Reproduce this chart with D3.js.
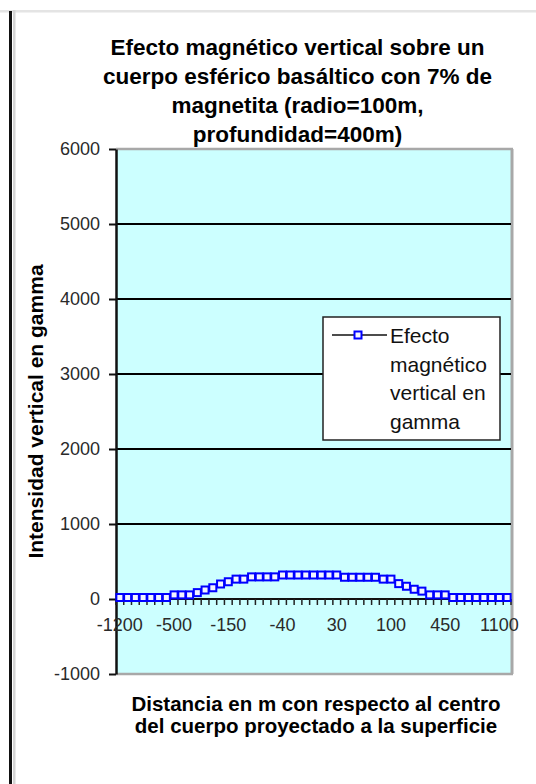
<!DOCTYPE html>
<html>
<head>
<meta charset="utf-8">
<script src="https://cdn.jsdelivr.net/npm/d3@7"></script>
<style>
  html, body { margin: 0; padding: 0; background: #fff; }
  svg { display: block; }
  text { font-family: "Liberation Sans", Arial, sans-serif; }
</style>
</head>
<body>
<div id="chart"></div>
<script>
// Categorias del eje X (distancia en m) y valores de la serie (gamma)
var categories = [-1200, -1100, -1000, -900, -800, -700, -600, -500,
    -450, -400, -350, -300, -250, -200, -150,
    -100, -90, -80, -70, -60, -50, -40,
    -30, -20, -10, 0, 10, 20, 30,
    40, 50, 60, 70, 80, 90, 100,
    150, 200, 250, 300, 350, 400, 450,
    500, 600, 700, 800, 900, 1000, 1100, 1200];
var values = [20, 20, 20, 20, 20, 20, 20, 55,
    55, 55, 85, 120, 150, 200, 230,
    265, 265, 295, 295, 295, 295, 320,
    320, 320, 320, 320, 320, 320, 320,
    290, 290, 290, 290, 290, 265, 265,
    205, 170, 130, 105, 55, 55, 55,
    20, 20, 20, 20, 20, 20, 20, 20];
var labeledCats = [-1200, -500, -150, -40, 30, 100, 450, 1100];
var yTicks = [-1000, 0, 1000, 2000, 3000, 4000, 5000, 6000];
var gridTicks = [1000, 2000, 3000, 4000, 5000];
var titleLines = ['Efecto magnético vertical sobre un',
    'cuerpo esférico basáltico con 7% de',
    'magnetita (radio=100m,',
    'profundidad=400m)'];
var xTitleLines = ['Distancia en m con respecto al centro',
    'del cuerpo proyectado a la superficie'];
var yTitle = 'Intensidad vertical en gamma';
var legendLines = ['Efecto', 'magnético', 'vertical en', 'gamma'];

var W = 536, H = 784;
var P = { left: 116, right: 511, top: 149, bottom: 674 };

var svg = d3.select('#chart').append('svg')
    .attr('width', W).attr('height', H);

svg.append('rect').attr('width', W).attr('height', H).attr('fill', '#fff');

// marco de la pagina
svg.append('rect').attr('x', 0).attr('y', 10).attr('width', W).attr('height', 2.5).attr('fill', '#e4e4e4');
svg.append('rect').attr('x', 13).attr('y', 10).attr('width', 2.5).attr('height', H).attr('fill', '#d4d4d4');
svg.append('rect').attr('x', 9).attr('y', 11).attr('width', 3).attr('height', H).attr('fill', '#111');

var x = d3.scaleBand().domain(categories).range([P.left, P.right]).padding(0);
var y = d3.scaleLinear().domain([-1000, 6000]).range([P.bottom, P.top]);
var cx = function (c) { return x(c) + x.bandwidth() / 2; };

// area del grafico
svg.append('rect')
    .attr('x', P.left).attr('y', P.top)
    .attr('width', P.right - P.left).attr('height', P.bottom - P.top)
    .attr('fill', '#ccffff');
svg.append('line').attr('x1', P.left).attr('x2', P.right + 2).attr('y1', P.top).attr('y2', P.top)
    .attr('stroke', '#a8a8a8').attr('stroke-width', 2.5);
svg.append('line').attr('x1', P.right + 1).attr('x2', P.right + 1).attr('y1', P.top).attr('y2', P.bottom)
    .attr('stroke', '#a8a8a8').attr('stroke-width', 3);
svg.append('line').attr('x1', P.left).attr('x2', P.right + 2).attr('y1', P.bottom).attr('y2', P.bottom)
    .attr('stroke', '#a8a8a8').attr('stroke-width', 2.5);

svg.append('g').selectAll('line').data(gridTicks).join('line')
    .attr('x1', P.left).attr('x2', P.right)
    .attr('y1', function (d) { return y(d); }).attr('y2', function (d) { return y(d); })
    .attr('stroke', '#000').attr('stroke-width', 2);

// eje Y
var yAxis = svg.append('g')
    .attr('transform', 'translate(' + P.left + ',0)')
    .call(d3.axisLeft(y).tickValues(yTicks).tickFormat(function (d) { return String(d); })
        .tickSizeInner(7).tickSizeOuter(0).tickPadding(9));
yAxis.select('.domain').attr('stroke', '#111').attr('stroke-width', 2.5);
yAxis.selectAll('.tick line').attr('stroke', '#111').attr('stroke-width', 2);
yAxis.selectAll('.tick text')
    .attr('font-family', '"Liberation Sans", Arial, sans-serif')
    .attr('font-size', 18).attr('fill', '#2a2a2a');

// eje X en y = 0
var y0 = y(0);
svg.append('line').attr('x1', P.left).attr('x2', P.right).attr('y1', y0).attr('y2', y0)
    .attr('stroke', '#111').attr('stroke-width', 2);
svg.append('g').selectAll('line').data(categories.concat(['end'])).join('line')
    .attr('x1', function (c) { return c === 'end' ? P.right : x(c); })
    .attr('x2', function (c) { return c === 'end' ? P.right : x(c); })
    .attr('y1', y0).attr('y2', y0 + 6)
    .attr('stroke', '#222').attr('stroke-width', 1.5);
svg.append('g').selectAll('text').data(labeledCats).join('text')
    .attr('x', cx).attr('y', y0 + 32)
    .attr('text-anchor', 'middle')
    .attr('font-size', 18).attr('fill', '#2a2a2a')
    .text(function (c) { return String(c); });

// serie
var line = d3.line()
    .x(function (d, i) { return cx(categories[i]); })
    .y(function (d) { return y(d); });
svg.append('path').datum(values)
    .attr('d', line).attr('fill', 'none')
    .attr('stroke', '#000080').attr('stroke-width', 1.5);
svg.append('g').selectAll('rect').data(values).join('rect')
    .attr('x', function (d, i) { return cx(categories[i]) - 3.5; })
    .attr('y', function (d) { return y(d) - 3.5; })
    .attr('width', 7).attr('height', 7)
    .attr('fill', '#f4f4ff').attr('stroke', '#0000ff').attr('stroke-width', 2);

// leyenda
var lg = svg.append('g').attr('transform', 'translate(323,317)');
lg.append('rect').attr('width', 177).attr('height', 123)
    .attr('fill', '#fff').attr('stroke', '#222').attr('stroke-width', 1.5);
lg.append('line').attr('x1', 9).attr('x2', 64).attr('y1', 18).attr('y2', 18)
    .attr('stroke', '#111').attr('stroke-width', 1.5);
lg.append('rect').attr('x', 35 - 3.5).attr('y', 18 - 3.5).attr('width', 7).attr('height', 7)
    .attr('fill', '#f4f4ff').attr('stroke', '#0000ff').attr('stroke-width', 2);
lg.selectAll('text.lt').data(legendLines).join('text')
    .attr('class', 'lt')
    .attr('x', 67).attr('y', function (d, i) { return 26 + i * 28.5; })
    .attr('font-size', 21).attr('fill', '#111')
    .text(function (d) { return d; });

// titulos
svg.append('g').selectAll('text').data(titleLines).join('text')
    .attr('x', 297.5).attr('y', function (d, i) { return 55 + i * 29; })
    .attr('text-anchor', 'middle').attr('font-size', 22.5).attr('font-weight', 'bold')
    .attr('fill', '#000')
    .text(function (d) { return d; });

svg.append('g').selectAll('text').data(xTitleLines).join('text')
    .attr('x', 316).attr('y', function (d, i) { return 711 + i * 22; })
    .attr('text-anchor', 'middle').attr('font-size', 20.5).attr('font-weight', 'bold')
    .attr('fill', '#000')
    .text(function (d) { return d; });

svg.append('text')
    .attr('transform', 'translate(43,' + ((P.top + P.bottom) / 2) + ') rotate(-90)')
    .attr('text-anchor', 'middle').attr('font-size', 21).attr('font-weight', 'bold')
    .attr('fill', '#000')
    .text(yTitle);
</script>
</body>
</html>
